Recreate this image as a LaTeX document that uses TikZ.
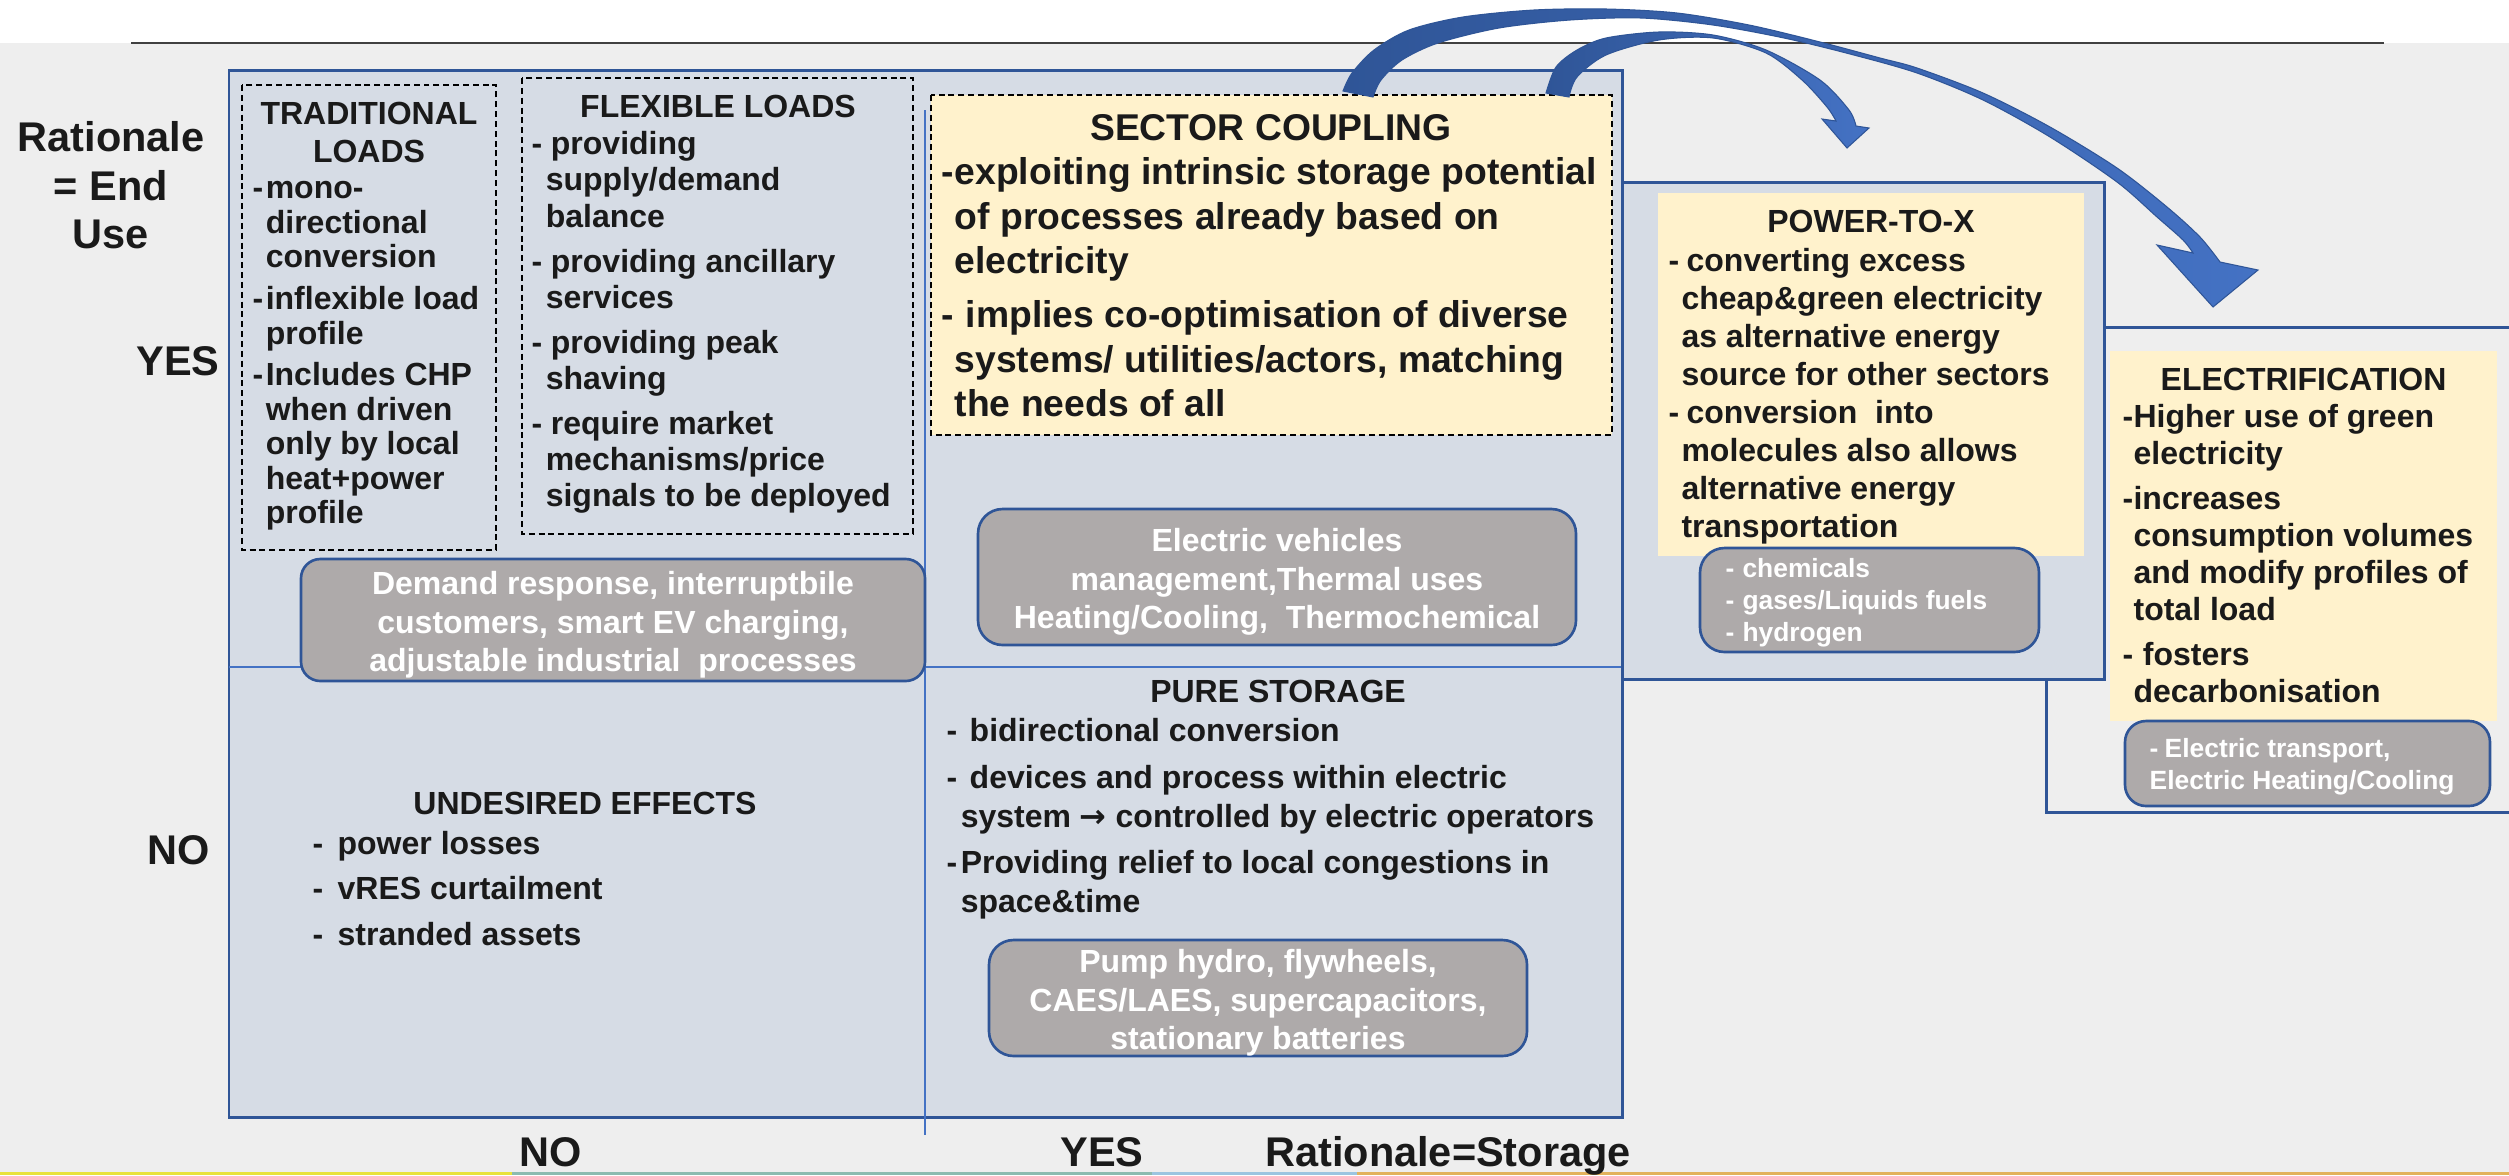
\documentclass[tikz,border=0pt]{standalone}
\usepackage{fontspec}
\setmainfont{Liberation Sans}
\newfontfamily\arrowfont{DejaVu Sans}
\usepackage{tikz}
\usetikzlibrary{calc}
\definecolor{frameBlue}{HTML}{2F5597}
\definecolor{lineBlue}{HTML}{4472C4}
\definecolor{panelBlue}{HTML}{D6DCE5}
\definecolor{noteYellow}{HTML}{FFF2CC}
\definecolor{exampleGray}{HTML}{AEAAAA}
\definecolor{pageGray}{HTML}{EEEEEE}
\definecolor{textBlack}{HTML}{1A1A1A}
\definecolor{stripeYellow}{HTML}{E8E23C}
\definecolor{stripeTeal}{HTML}{8CBBB0}
\definecolor{stripeBlue}{HTML}{9CC5E0}
\definecolor{stripeOrange}{HTML}{E2B25C}

\newcommand{\dashlead}[1]{\makebox[#1][l]{-}}
\newcommand{\hangin}[1]{\hspace*{#1}}

\begin{document}
\begin{tikzpicture}[x=0.01cm, y=-0.01cm,
    txt/.style={font=\fontsize{9.1}{#1}\selectfont\bfseries, text=textBlack, inner sep=0pt, align=left, anchor=north west},
    head/.style={font=\fontsize{9.1}{10.8}\selectfont\bfseries, text=textBlack, inner sep=0pt, anchor=base},
    big/.style={font=\fontsize{11.8}{13.8}\selectfont\bfseries, text=textBlack, inner sep=0pt, anchor=base},
    ex/.style={font=\fontsize{9.1}{10.95}\selectfont\bfseries, text=white, inner sep=0pt, align=center, anchor=north},
    exsmall/.style={font=\fontsize{7.5}{9.1}\selectfont\bfseries, text=white, inner sep=0pt, align=left, anchor=north west},
    panel/.style={fill=panelBlue, draw=frameBlue, line width=0.85pt},
    dashbox/.style={draw=black, line width=0.55pt, dash pattern=on 1.7pt off 1.1pt},
    exbox/.style={fill=exampleGray, draw=frameBlue, line width=0.75pt, rounded corners=7pt},
    flowarrow/.style={draw=frameBlue, line width=0.3pt, left color=frameBlue, right color=lineBlue}]
    % page
    \useasboundingbox (0,0) rectangle (2509,1175);
    \fill[white] (0,0) rectangle (2509,43);
    \fill[pageGray] (0,43) rectangle (2509,1175);
    \draw[black!75, line width=0.55pt] (131,43) -- (2384,43);
    \fill[stripeYellow] (0,1172) rectangle (512,1175);
    \fill[stripeTeal] (512,1172) rectangle (1152,1175);
    \fill[stripeBlue] (1152,1172) rectangle (1357,1175);
    \fill[stripeOrange] (1357,1172) rectangle (2509,1175);

    % main matrix and its quadrants
    \draw[panel] (229,70) rectangle (1622,1117);
    \draw[lineBlue, line width=0.4pt] (925,110) -- (925,1135);
    \draw[lineBlue, line width=0.4pt] (229,667) -- (1624,667);

    % electrification frame, then power-to-x over it
    \draw[frameBlue, line width=0.85pt] (2509,327) -- (2046,327) -- (2046,812) -- (2509,812);
    \draw[panel] (1622,182) rectangle (2104,679);
    \fill[noteYellow] (1658,193) rectangle (2084,556);
    \fill[noteYellow] (2110,351) rectangle (2497,721);

    % dashed boxes
    \draw[dashbox] (242,85) rectangle (496,550);
    \draw[dashbox] (522,78) rectangle (913,534);
    \draw[dashbox, fill=noteYellow] (931,95) rectangle (1612,435);

    % grey example boxes
    \draw[exbox, rounded corners=5.5pt] (301,559) rectangle (925,681);
    \draw[exbox] (978,509) rectangle (1576,645);
    \draw[exbox] (989,940) rectangle (1527,1056);
    \draw[exbox] (1700,548) rectangle (2039,652);
    \draw[exbox, rounded corners=6pt] (2125,721) rectangle (2490,806);

    % traditional loads
    \node[txt=10.8pt, align=center, anchor=north] (tradHead) at (369,97) {\strut TRADITIONAL\\LOADS};
    \node[txt=9.8pt] (tradItems) at (252,174) {\strut\dashlead{0.41em}mono-\\
        \hangin{0.41em}directional\\
        \hangin{0.41em}conversion\\[2.1pt]
        \dashlead{0.41em}inflexible load\\
        \hangin{0.41em}profile\\[2.1pt]
        \dashlead{0.41em}Includes CHP\\
        \hangin{0.41em}when driven\\
        \hangin{0.41em}only by local\\
        \hangin{0.41em}heat+power\\
        \hangin{0.41em}profile};

    % flexible loads
    \node[head] (flexHead) at (718,117.5) {FLEXIBLE LOADS};
    \node[txt=10.25pt] (flexItems) at (531,129) {\strut\dashlead{0.6em}providing\\
        \hangin{0.44em}supply/demand\\
        \hangin{0.44em}balance\\[2.6pt]
        \dashlead{0.6em}providing ancillary\\
        \hangin{0.44em}services\\[2.6pt]
        \dashlead{0.6em}providing peak\\
        \hangin{0.44em}shaving\\[2.6pt]
        \dashlead{0.6em}require market\\
        \hangin{0.44em}mechanisms/price\\
        \hangin{0.44em}signals to be deployed};
    \node[ex] (drText) at (613,567) {\strut Demand response, interruptbile\\customers, smart EV charging,\\adjustable industrial~ processes};

    % sector coupling
    \node[head, font=\fontsize{10.6}{12.7}\selectfont\bfseries] (scHead) at (1271,140) {SECTOR COUPLING};
    \node[txt=12.66pt, font=\fontsize{10.6}{12.66}\selectfont\bfseries] (scItems) at (941,153) {\strut\dashlead{0.35em}exploiting intrinsic storage potential\\
        \hangin{0.35em}of processes already based on\\
        \hangin{0.35em}electricity\\[2.7pt]
        \dashlead{0.65em}implies co-optimisation of diverse\\
        \hangin{0.35em}systems/ utilities/actors, matching\\
        \hangin{0.35em}the needs of all};
    \node[ex] (evText) at (1277,524) {\strut Electric vehicles\\management,Thermal uses\\Heating/Cooling,~ Thermochemical};

    % undesired effects
    \node[head] (undHead) at (585,814.5) {UNDESIRED EFFECTS};
    \node[txt=12.9pt] (undItems) at (312,822) {\strut\dashlead{0.78em}power losses\\
        \dashlead{0.78em}vRES curtailment\\
        \dashlead{0.78em}stranded assets};

    % pure storage
    \node[head] (psHead) at (1278,702.5) {PURE STORAGE};
    \node[txt=11.1pt] (psItems) at (946,713) {\strut\dashlead{0.72em}bidirectional conversion\\[2.3pt]
        \dashlead{0.72em}devices and process within electric\\
        \hangin{0.44em}system {\arrowfont →} controlled by electric operators\\[2pt]
        \dashlead{0.44em}Providing relief to local congestions in\\
        \hangin{0.44em}space\&time};
    \node[ex] (psText) at (1258,945) {\strut Pump hydro, flywheels,\\CAES/LAES, supercapacitors,\\stationary batteries};

    % power-to-x
    \node[head] (ptxHead) at (1871,232.5) {POWER-TO-X};
    \node[txt=10.8pt] (ptxItems) at (1668,244) {\strut\dashlead{0.56em}converting excess\\
        \hangin{0.4em}cheap\&green electricity\\
        \hangin{0.4em}as alternative energy\\
        \hangin{0.4em}source for other sectors\\
        \dashlead{0.56em}conversion~ into\\
        \hangin{0.4em}molecules also allows\\
        \hangin{0.4em}alternative energy\\
        \hangin{0.4em}transportation};
    \node[exsmall] (ptxText) at (1725,554) {\strut\dashlead{0.64em}chemicals\\
        \dashlead{0.64em}gases/Liquids fuels\\
        \dashlead{0.64em}hydrogen};

    % electrification
    \node[head] (elHead) at (2303.5,390.5) {ELECTRIFICATION};
    \node[txt=10.5pt] (elItems) at (2122,401) {\strut\dashlead{0.34em}Higher use of green\\
        \hangin{0.34em}electricity\\[2.3pt]
        \dashlead{0.34em}increases\\
        \hangin{0.34em}consumption volumes\\
        \hangin{0.34em}and modify profiles of\\
        \hangin{0.34em}total load\\[2.5pt]
        \dashlead{0.63em}fosters\\
        \hangin{0.34em}decarbonisation};
    \node[exsmall] (elText) at (2149,734) {\strut\dashlead{0.57em}Electric transport,\\Electric Heating/Cooling};

    % axis labels
    \node[big, anchor=north, align=center] (endUse) at (111,117) {\strut Rationale\\= End\\Use};
    \node[big] (yesLeft) at (178,375) {YES};
    \node[big] (noLeft) at (179,864) {NO};
    \node[big] (noBottom) at (551,1166) {NO};
    \node[big] (yesBottom) at (1102,1166) {YES};
    \node[big] (storageAxis) at (1448,1166) {Rationale=Storage};

    % sector coupling -> electrification
    \coordinate (elTip) at (2213,307);
    \coordinate (ptxTip) at (1847,148);
    \shadedraw[flowarrow] plot[smooth] coordinates {(1343,91) (1352,73) (1374,50) (1409,30) (1463,17) (1534,10) (1606,9) (1677,13) (1749,25) (1820,42) (1880,58) (1917,68) (1983,93) (2050,127) (2117,168) (2167,207) (2200,237) (2220,262)}
        -- (2258,270) -- (elTip) -- (2157,245)
        -- plot[smooth] coordinates {(2193,253) (2183,240) (2157,217) (2117,182) (2050,137) (1983,100) (1917,73) (1850,54) (1784,38) (1713,25) (1641,18) (1570,20) (1499,28) (1438,43) (1402,60) (1381,80) (1373,97)} -- cycle;
    % sector coupling -> power-to-x
    \shadedraw[flowarrow] plot[smooth] coordinates {(1546,93) (1556,67) (1577,50) (1606,38) (1659,32) (1713,35) (1766,50) (1820,80) (1849,110) (1856,126)}
        -- (1869,128) -- (ptxTip) -- (1822,119)
        -- plot[smooth] coordinates {(1836,121) (1827,107) (1802,80) (1766,53) (1713,38) (1659,40) (1606,55) (1577,77) (1569,97)} -- cycle;
\end{tikzpicture}
\end{document}
